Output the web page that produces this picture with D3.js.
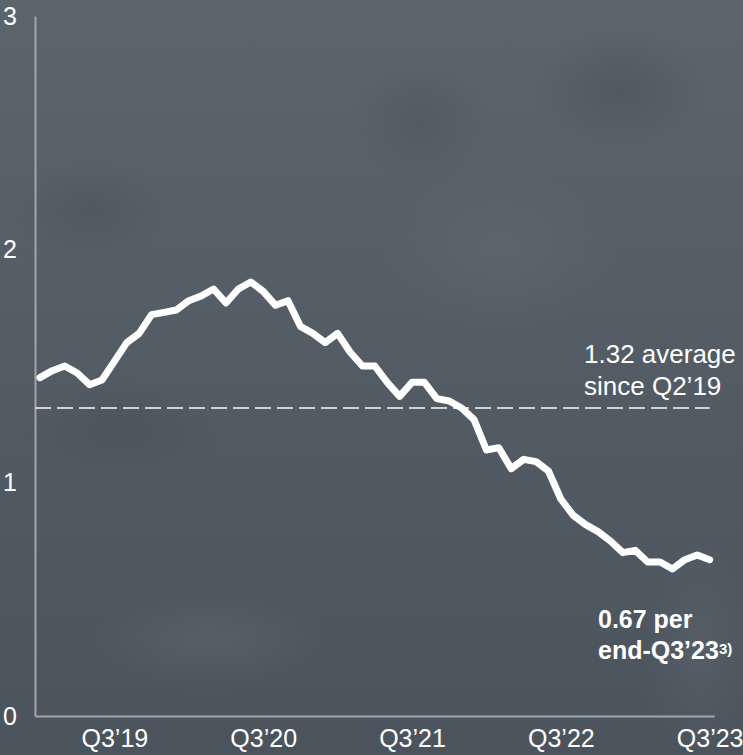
<!DOCTYPE html>
<meta charset="utf-8">
<script src="https://d3js.org/d3.v7.min.js"></script>
<style>
  body { margin: 0; background: #525b64; }
  text { font-family: "Liberation Sans", Arial, sans-serif; }
</style>
<div id="chart"></div>
<script>
  // monthly values, Mar'19 .. Sep'23
  var values = [
    1.45, 1.48, 1.50, 1.47, 1.42, 1.44, 1.52, 1.60, 1.64, 1.72,
    1.73, 1.74, 1.78, 1.80, 1.83, 1.77, 1.83, 1.86, 1.82, 1.76,
    1.78, 1.67, 1.64, 1.60, 1.64, 1.56, 1.50, 1.50, 1.43, 1.37,
    1.43, 1.43, 1.36, 1.35, 1.32, 1.27, 1.14, 1.15, 1.06, 1.10,
    1.09, 1.05, 0.93, 0.86, 0.82, 0.79, 0.75, 0.70, 0.71, 0.66,
    0.66, 0.63, 0.67, 0.69, 0.67
  ];
  var tickIdx = [6, 18, 30, 42, 54];
  var tickLabels = ["Q3’19", "Q3’20", "Q3’21", "Q3’22", "Q3’23"];
  var yTicks = [0, 1, 2, 3];
  var average = 1.32;

  var W = 743, H = 755;

  var svg = d3.select("#chart").append("svg")
    .attr("width", W)
    .attr("height", H);

  // blurred photo-like background
  var defs = svg.append("defs");
  var grad = defs.append("linearGradient").attr("id", "bg")
    .attr("x1", 0).attr("y1", 0).attr("x2", 0).attr("y2", 1);
  grad.append("stop").attr("offset", "0%").attr("stop-color", "#5c656e");
  grad.append("stop").attr("offset", "55%").attr("stop-color", "#525b64");
  grad.append("stop").attr("offset", "100%").attr("stop-color", "#4b545d");

  svg.append("rect").attr("width", W).attr("height", H).attr("fill", "url(#bg)");

  // soft light / dark patches
  var blobs = [
    [210, 640, 120, 50, "#626b74"], [620, 90, 90, 60, "#454e57"],
    [90, 210, 80, 50, "#48515a"], [500, 250, 120, 80, "#636c75"],
    [420, 120, 70, 60, "#4a535c"], [700, 650, 60, 110, "#5e6770"],
    [120, 430, 100, 50, "#454e57"]
  ];
  blobs.forEach(function (b, i) {
    var rg = defs.append("radialGradient").attr("id", "blob" + i);
    rg.append("stop").attr("offset", "0%").attr("stop-color", b[4]).attr("stop-opacity", 0.45);
    rg.append("stop").attr("offset", "100%").attr("stop-color", b[4]).attr("stop-opacity", 0);
  });
  svg.append("g")
    .selectAll("ellipse").data(blobs).enter().append("ellipse")
    .attr("cx", function (d) { return d[0]; })
    .attr("cy", function (d) { return d[1]; })
    .attr("rx", function (d) { return d[2]; })
    .attr("ry", function (d) { return d[3]; })
    .attr("fill", function (d, i) { return "url(#blob" + i + ")"; });

  var x = d3.scaleLinear().domain([-0.4, 54.35]).range([35, 714]);
  var y = d3.scaleLinear().domain([0, 3]).range([716, 16]);

  // Y axis
  var yAxis = svg.append("g")
    .attr("transform", "translate(35,0)")
    .call(d3.axisLeft(y).tickValues(yTicks).tickFormat(d3.format("d"))
      .tickSize(0).tickSizeOuter(0).tickPadding(18));

  // X axis
  var xAxis = svg.append("g")
    .attr("transform", "translate(0,716)")
    .call(d3.axisBottom(x).tickValues(tickIdx)
      .tickFormat(function (d, i) { return tickLabels[i]; })
      .tickSize(0).tickSizeOuter(0).tickPadding(13));

  [yAxis, xAxis].forEach(function (g) {
    g.select(".domain").attr("stroke", "#a3a6a9").attr("stroke-width", 2);
    g.selectAll("text").attr("fill", "#ffffff")
      .style("font-size", "25px")
      .style("font-family", "'Liberation Sans', Arial, sans-serif");
  });

  // average line
  svg.append("line")
    .attr("x1", x(-0.4)).attr("x2", x(54))
    .attr("y1", y(average)).attr("y2", y(average))
    .attr("stroke", "#cfd1d3")
    .attr("stroke-width", 2)
    .attr("stroke-dasharray", "16,6");

  // main line
  svg.append("path")
    .datum(values)
    .attr("fill", "none")
    .attr("stroke", "#ffffff")
    .attr("stroke-width", 7)
    .attr("stroke-linejoin", "round")
    .attr("stroke-linecap", "round")
    .attr("d", d3.line()
      .x(function (d, i) { return x(i); })
      .y(function (d) { return y(d); }));

  // annotations
  var avgLabel = svg.append("text")
    .attr("x", 584).attr("y", 363)
    .attr("fill", "#ffffff")
    .style("font-size", "26px");
  avgLabel.append("tspan").attr("x", 584).text(average.toFixed(2) + " average");
  avgLabel.append("tspan").attr("x", 584).attr("y", 395).text("since Q2’19");

  var endLabel = svg.append("text")
    .attr("x", 598).attr("y", 628)
    .attr("fill", "#ffffff")
    .style("font-size", "25px")
    .style("font-weight", "bold");
  endLabel.append("tspan").attr("x", 598).text(values[values.length - 1].toFixed(2) + " per");
  endLabel.append("tspan").attr("x", 598).attr("y", 659).text("end-Q3’23");
  endLabel.append("tspan").attr("dy", -5).style("font-size", "15px").text("3)");
</script>
